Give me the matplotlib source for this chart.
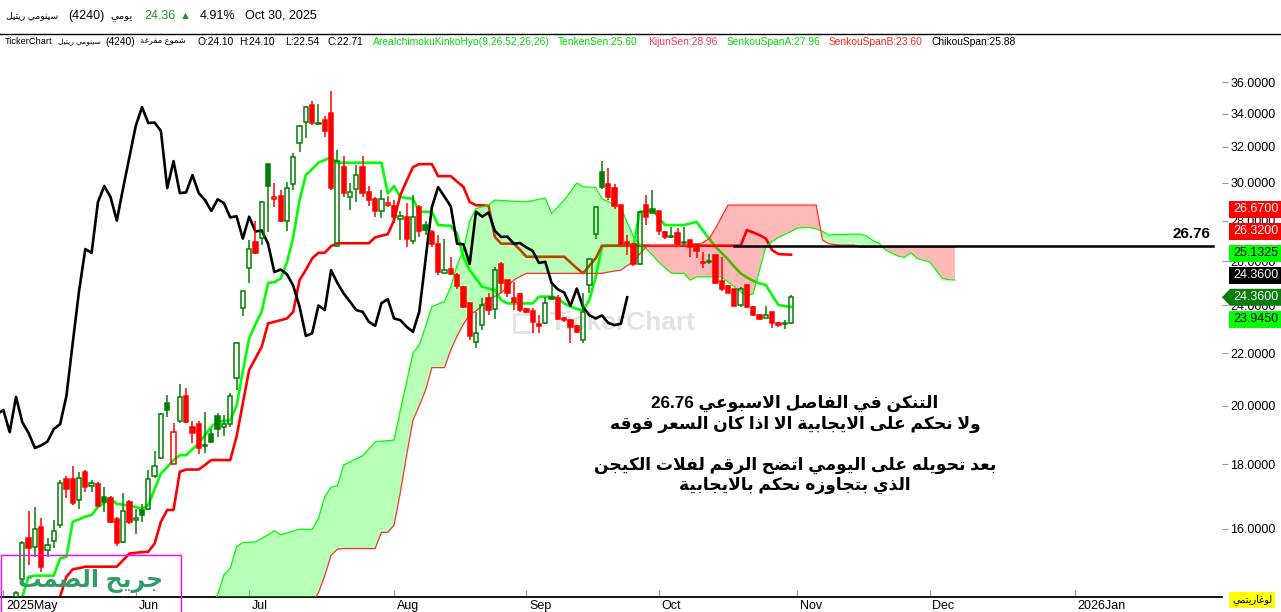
import numpy as np
import matplotlib
matplotlib.use("Agg")
import matplotlib.pyplot as plt
from matplotlib.patches import Rectangle, Polygon
from matplotlib.lines import Line2D
from matplotlib.ticker import NullLocator
from matplotlib.transforms import ScaledTranslation

plt.rcParams['font.family'] = ['Liberation Sans', 'DejaVu Sans']

W, H = 1281, 612

# ---- daily candles (trading-day index 0 .. 123, last = Oct 30, 2025) ----
opens = [14.15, 14.61, 15.74, 15.48, 16.05, 15.4, 15.65, 16.11, 17.52, 17.52,
         16.86, 17.75, 17.3, 17.35, 16.95, 16.92, 16.29, 15.63, 16.8, 16.25,
         16.56, 16.59, 17.62, 18.2, 20.1, 18.0, 19.45, 20.36, 19.26, 19.35,
         18.6, 19.0, 19.64, 19.25, 19.35, 21.04, 23.89, 25.69, 26.93, 27.12,
         31.02, 29.12, 29.3, 27.96, 29.9, 32.23, 33.48, 34.53, 33.35, 33.58,
         34.03, 26.76, 30.85, 29.22, 29.65, 30.85, 29.47, 29.1, 28.49, 28.82,
         28.74, 28.1, 28.2, 27.0, 28.7, 27.8, 27.43, 26.85, 25.48, 25.64,
         25.36, 24.8, 24.1, 22.47, 23.15, 24.32, 23.83, 25.9, 25.13, 24.32,
         24.5, 23.83, 23.76, 23.2, 23.23, 24.38, 24.35, 23.48, 23.37, 23.12,
         22.54, 24.91, 27.32, 30.56, 29.94, 29.68, 28.8, 26.92, 26.85, 25.9,
         28.8, 28.59, 28.47, 27.4, 27.25, 27.35, 26.95, 27.02, 26.82, 25.98,
         26.04, 26.3, 25.08, 24.86, 24.71, 24.0, 24.91, 23.93, 23.58, 23.48,
         23.7, 23.27, 23.25, 23.23]
highs = [14.3, 15.65, 16.52, 16.65, 16.32, 15.74, 16.26, 17.48, 17.6, 17.94,
         17.75, 17.8, 17.5, 17.42, 17.28, 17.0, 16.36, 17.07, 16.85, 16.6,
         16.75, 17.8, 18.42, 19.75, 20.4, 19.39, 20.81, 20.66, 19.45, 19.45,
         19.78, 19.18, 19.75, 19.68, 20.47, 22.45, 24.65, 27.04, 27.96, 29.0,
         31.05, 30.0, 29.57, 30.05, 31.65, 33.3, 34.45, 34.78, 34.6, 33.87,
         35.42, 31.8, 31.48, 29.98, 30.96, 31.48, 29.8, 29.22, 29.57, 29.27,
         29.06, 28.5, 28.9, 29.33, 28.8, 28.0, 27.5, 27.27, 27.1, 26.2,
         25.44, 24.85, 24.1, 23.73, 24.32, 24.53, 25.75, 25.95, 25.15, 25.05,
         24.53, 23.88, 23.88, 23.58, 24.38, 24.91, 24.46, 23.5, 23.4, 23.16,
         24.53, 26.12, 28.72, 31.19, 30.78, 29.9, 28.82, 27.27, 26.88, 28.5,
         29.33, 29.62, 28.5, 27.45, 27.68, 27.6, 27.68, 27.05, 26.85, 26.46,
         26.34, 26.32, 26.2, 24.91, 24.73, 24.8, 24.93, 23.96, 23.62, 23.99,
         23.72, 23.3, 23.37, 24.46]
lows = [14.1, 14.55, 14.98, 15.2, 14.8, 15.2, 15.45, 16.02, 16.92, 16.7,
        16.6, 17.1, 17.1, 16.65, 16.5, 16.17, 15.5, 15.6, 16.15, 15.85,
        16.2, 16.56, 17.55, 18.15, 19.6, 18.0, 19.4, 19.4, 18.7, 18.33,
        18.36, 18.7, 18.9, 18.95, 19.26, 20.58, 23.56, 25.0, 26.35, 26.8,
        27.42, 28.69, 27.95, 27.46, 29.6, 31.7, 32.53, 33.3, 33.3, 32.6,
        29.6, 26.7, 29.22, 28.55, 28.97, 29.22, 28.73, 28.2, 28.15, 28.7,
        27.9, 27.04, 26.7, 26.85, 27.2, 27.27, 26.7, 25.36, 25.45, 25.36,
        24.75, 23.88, 22.54, 22.2, 22.95, 23.58, 23.44, 24.53, 24.38, 23.8,
        23.73, 23.66, 22.82, 22.82, 23.2, 24.24, 23.37, 23.3, 22.41, 22.85,
        22.41, 24.57, 27.1, 29.66, 29.06, 28.6, 26.78, 26.3, 25.78, 25.85,
        27.77, 28.38, 27.27, 27.1, 27.15, 26.78, 26.78, 26.2, 26.16, 25.67,
        25.9, 24.95, 24.65, 24.53, 23.97, 23.95, 23.9, 23.55, 23.37, 23.46,
        23.06, 23.1, 22.98, 23.2]
closes = [14.25, 15.6, 15.45, 16.0, 14.93, 15.54, 15.94, 17.39, 17.2, 16.77,
          17.55, 17.26, 17.38, 16.68, 16.8, 16.2, 15.6, 16.52, 16.2, 16.32,
          16.4, 17.52, 17.93, 19.71, 19.85, 19.07, 20.33, 19.42, 19.04, 18.53,
          18.62, 18.75, 19.18, 19.35, 20.36, 22.42, 24.63, 26.59, 26.4, 28.95,
          29.81, 29.22, 28.0, 29.7, 31.42, 33.24, 34.4, 33.42, 33.45, 32.94,
          29.7, 31.19, 29.43, 29.47, 30.41, 29.43, 29.06, 28.49, 29.1, 28.9,
          28.16, 28.22, 27.1, 28.2, 27.45, 27.5, 26.85, 25.5, 25.62, 25.4,
          24.88, 23.95, 22.71, 22.82, 24.0, 23.8, 25.59, 25.0, 24.53, 24.17,
          23.8, 23.73, 23.3, 23.13, 24.1, 24.28, 23.44, 23.37, 23.09, 22.88,
          23.73, 26.09, 28.69, 29.75, 29.24, 28.73, 26.85, 26.82, 25.88, 28.45,
          28.2, 28.41, 27.48, 27.18, 27.19, 26.85, 26.88, 26.67, 26.5, 25.93,
          25.98, 25.0, 24.71, 24.57, 23.99, 24.75, 23.92, 23.58, 23.44, 23.57,
          23.25, 23.16, 23.22, 24.36]

# ---- ichimoku lines ----
tenkan = [13.9, 14.15, 14.67, 14.70, 14.70, 14.70, 14.70, 15.17, 15.21, 16.21,
          16.28, 16.36, 16.41, 16.65, 16.78, 16.91, 16.74, 16.72, 16.69, 16.65,
          16.59, 16.71, 17.2, 17.69, 17.9, 18.13, 18.29, 18.29, 18.49, 18.69,
          18.97, 19.26, 19.43, 19.46, 19.49, 20.0, 21.3, 22.6, 23.2, 23.73,
          25.0, 25.04, 25.2, 25.95, 27.18, 29.06, 30.41, 30.75, 31.10, 31.25,
          31.40, 31.10, 31.10, 31.10, 31.10, 31.10, 31.10, 31.10, 31.10, 29.41,
          29.81, 29.22, 29.17, 29.13, 28.45, 28.45, 28.45, 27.77, 27.75, 27.73,
          27.35, 26.22, 25.6, 25.2, 24.83, 24.75, 24.68, 24.24, 24.09, 24.09,
          24.09, 24.09, 24.09, 24.39, 24.39, 24.39, 24.32, 24.09, 23.95, 23.85,
          23.80, 24.24, 25.28, 26.72, 26.75, 26.75, 26.75, 26.75, 26.75, 28.45,
          28.5, 28.54, 28.15, 27.77, 27.77, 27.77, 27.77, 27.85, 27.94, 27.5,
          27.1, 26.70, 26.4, 26.1, 25.75, 25.44, 25.25, 25.1, 24.98, 24.91,
          24.45, 24.02, 23.97, 23.945]
kijun = [13.2, 13.2, 13.5, 13.5, 13.8, 13.8, 13.9, 14.15, 14.67, 14.87,
         14.9, 14.94, 14.94, 14.94, 14.94, 14.94, 14.94, 15.12, 15.30, 15.32,
         15.34, 15.35, 15.58, 16.21, 16.56, 16.56, 17.75, 17.82, 17.82, 17.82,
         17.97, 18.13, 18.13, 18.13, 18.13, 18.91, 20.1, 21.35, 21.8, 22.27,
         23.23, 23.30, 23.37, 23.44, 23.73, 25.13, 25.6, 26.14, 26.41, 26.41,
         26.73, 26.87, 26.87, 26.87, 26.87, 26.87, 26.87, 27.16, 27.24, 27.31,
         28.02, 29.33, 30.1, 30.85, 31.02, 31.02, 31.02, 30.35, 30.35, 30.35,
         30.05, 29.77, 28.96, 28.79, 28.78, 28.77, 27.18, 26.85, 26.85, 26.85,
         26.55, 26.22, 26.22, 26.22, 26.22, 26.22, 26.22, 26.22, 25.95, 25.68,
         25.45, 25.8, 26.14, 26.75, 26.75, 26.75, 26.75, 26.75, 26.75, 26.75,
         26.75, 26.75, 26.75, 26.75, 26.75, 26.75, 26.75, 26.75, 26.75, 26.75,
         26.75, 26.75, 26.75, 26.75, 26.75, 26.75, 27.52, 27.4, 27.27, 27.10,
         26.54, 26.35, 26.33, 26.32]
span_start = 31  # senkou spans run from index 31 to 149 (26 days ahead)
senkou_a = [13.9, 14.2, 14.72, 14.90, 15.49, 15.61, 15.62, 15.63, 15.73,
            15.83, 15.95, 15.83, 15.88, 15.94, 15.99, 15.99, 15.99, 16.31, 16.96,
            17.26, 17.30, 17.97, 18.07, 18.17, 18.27, 18.5, 18.74, 18.76, 18.78,
            18.80, 19.85, 20.9, 22.02, 22.34, 23.1, 23.95, 24.06, 24.17, 24.83,
            25.83, 26.54, 27.96, 28.62, 28.7, 28.80, 29.06, 29.04, 29.02, 29.0,
            28.98, 28.97, 29.03, 29.1, 29.16, 28.37, 28.7, 29.06, 29.5, 29.97,
            29.77, 29.75, 29.74, 29.13, 28.98, 28.83, 28.69, 27.9, 27.2, 26.8,
            26.6, 26.3, 25.97, 25.7, 25.45, 25.44, 25.44, 25.13, 25.28, 25.28,
            25.28, 25.28, 25.28, 25.05, 24.83, 24.6, 24.39, 24.53, 25.59, 26.70,
            26.95, 27.16, 27.3, 27.45, 27.62, 27.64, 27.65, 27.57, 27.45, 27.27,
            27.3, 27.3, 27.31, 27.32, 27.32, 27.22, 27.0, 26.87, 26.54, 26.4,
            26.25, 26.19, 26.41, 26.14, 26.05, 25.98, 25.6, 25.21, 25.15, 25.1325]
senkou_b = [13.6, 13.6, 13.6, 13.6, 13.6, 13.6, 13.6, 13.6, 13.6,
            13.6, 13.6, 13.6, 13.6, 13.6, 13.6, 13.6, 14.0, 14.25, 14.7,
            15.25, 15.42, 15.44, 15.44, 15.44, 15.44, 15.44, 15.44, 15.90, 15.90,
            16.11, 17.1, 18.3, 19.49, 20.0, 20.58, 21.44, 21.44, 21.44, 22.14,
            22.7, 23.2, 23.60, 23.76, 24.0, 24.24, 24.4, 24.55, 24.85, 25.13,
            25.3, 25.44, 25.44, 25.44, 25.44, 25.44, 25.44, 25.44, 25.44, 25.44,
            25.44, 25.44, 25.44, 25.44, 25.5, 25.55, 25.59, 25.8, 25.98, 26.35,
            26.70, 26.75, 26.75, 26.75, 26.75, 26.75, 26.75, 26.75, 26.75, 26.9,
            27.10, 27.6, 28.2, 28.80, 28.80, 28.80, 28.80, 28.80, 28.80, 28.80,
            28.80, 28.80, 28.80, 28.80, 28.80, 28.80, 28.80, 28.80, 27.02, 26.85,
            26.8, 26.78, 26.78, 26.78, 26.67, 26.67, 26.67, 26.67, 26.67, 26.67,
            26.67, 26.67, 26.67, 26.67, 26.67, 26.67, 26.67, 26.67, 26.67, 26.67]
chikou_shift = 26
hover = 72          # candle shown in the legend row
level = 26.76       # drawn horizontal line
level_start, level_end = 114, 190

month_pos = [-2, 19, 37, 60, 81, 102, 124, 145, 168]
month_lbl = ['2025May', 'Jun', 'Jul', 'Aug', 'Sep', 'Oct', 'Nov', 'Dec', '2026Jan']
y_ticks = [16, 18, 20, 22, 24, 26, 28, 30, 32, 34, 36]

notes = ["التنكن في الفاصل الاسبوعي 26.76",
         "ولا نحكم على الايجابية الا اذا كان السعر فوقه",
         "بعد تحويله على اليومي اتضح الرقم لفلات الكيجن",
         "الذي بتجاوزه نحكم بالايجابية"]
notes_y = [403, 424, 465, 485]

# ---- minimal arabic shaping (presentation forms, visual order) ----
AR = {'ا': (0xFE8D, 2), 'ب': (0xFE8F, 4), 'ة': (0xFE93, 2), 'ت': (0xFE95, 4),
      'ج': (0xFE9D, 4), 'ح': (0xFEA1, 4), 'د': (0xFEA9, 2), 'ذ': (0xFEAB, 2),
      'ر': (0xFEAD, 2), 'ز': (0xFEAF, 2), 'س': (0xFEB1, 4), 'ش': (0xFEB5, 4),
      'ص': (0xFEB9, 4), 'ض': (0xFEBD, 4), 'ع': (0xFEC9, 4), 'غ': (0xFECD, 4),
      'ف': (0xFED1, 4), 'ق': (0xFED5, 4), 'ك': (0xFED9, 4), 'ل': (0xFEDD, 4),
      'م': (0xFEE1, 4), 'ن': (0xFEE5, 4), 'ه': (0xFEE9, 4), 'و': (0xFEED, 2),
      'ى': (0xFEEF, 2), 'ي': (0xFEF1, 4)}


def shape_word(w):
    out = []
    i = 0
    while i < len(w):
        ch = w[i]
        if ch not in AR:
            out.append(ch)
            i += 1
            continue
        prev = i > 0 and w[i - 1] in AR and AR[w[i - 1]][1] == 4
        if ch == 'ل' and i + 1 < len(w) and w[i + 1] == 'ا':
            out.append(chr(0xFEFC if prev else 0xFEFB))
            i += 2
            continue
        base, n = AR[ch]
        nxt = n == 4 and i + 1 < len(w) and w[i + 1] in AR
        k = 3 if (prev and nxt) else 1 if prev else 2 if nxt else 0
        out.append(chr(base + k))
        i += 1
    return ''.join(out[::-1])


def ar(s):
    parts = s.split(' ')[::-1]
    return ' '.join(shape_word(p) if any(c in AR for c in p) else p for p in parts)


def fx(x):
    return x / W


def fy(y):
    return 1 - y / H


fig = plt.figure(figsize=(W / 100, H / 100), dpi=100)
fig.patch.set_facecolor('white')
ax = fig.add_axes([0, (H - 597) / H, 1222 / W, (597 - 36) / H])
ax.set_yscale('log')
ax.set_ylim(14.14, 39.14)
ax.set_xlim(-2.54, 191.4)

o, h, l, c = map(np.array, (opens, highs, lows, closes))
idx = np.arange(len(c))

# tenkan / kijun sit under the cloud fill
ax.plot(idx, tenkan, color='#00ff00', lw=1.9, zorder=2)
ax.plot(idx, kijun, color='#ff0000', lw=1.9, zorder=2)

sx = np.arange(span_start, span_start + len(senkou_a))
sa, sb = np.array(senkou_a), np.array(senkou_b)
ax.fill_between(sx, sa, sb, where=sa >= sb, interpolate=True,
                color='#00ff00', alpha=0.28, lw=0, zorder=3)
ax.fill_between(sx, sa, sb, where=sa < sb, interpolate=True,
                color='#ff0000', alpha=0.28, lw=0, zorder=3)
ax.plot(sx, sa, color='#00ff00', lw=0.9, zorder=3.5)
ax.plot(sx, sb, color='#ff3030', lw=0.9, zorder=3.5)

# chikou = close drawn 26 days back
ax.plot(idx - chikou_shift, c, color='black', lw=1.9, zorder=4)

# candles
prev_c = np.r_[c[0], c[:-1]]
col = np.where(c >= prev_c, '#008000', '#ff0000')
top = np.maximum(o, c)
bot = np.minimum(o, c)
faces = ['none' if cc >= oo else cl for cc, oo, cl in zip(c, o, col)]
ax.vlines(idx, top, h, colors=col, lw=1.1, zorder=5)
ax.vlines(idx, l, bot, colors=col, lw=1.1, zorder=5)
ax.bar(idx, top - bot, bottom=bot, width=0.68, color=faces, edgecolor=col,
       lw=1.1, zorder=5)

# horizontal level line
ax.plot([level_start, level_end], [level, level], color='black', lw=1.8, zorder=6)
ax.annotate(f'{level:.2f}', (level_end - 0.5, level), xytext=(0, 3),
            textcoords='offset points', ha='right', va='bottom',
            fontsize=11, fontweight='bold', zorder=6)

# watermark
ax.text(fx(623), fy(323), 'TickerChart', transform=fig.transFigure,
        ha='center', va='center', fontsize=19, fontweight='bold',
        color='#e3e3e3', zorder=0.5)
ax.add_patch(Rectangle((fx(514), fy(332)), 19 / W, 18 / H, transform=fig.transFigure,
                       facecolor='none', edgecolor='#e3e3e3', lw=2, zorder=0.5))

# axes styling
for side in ('top', 'left', 'right'):
    ax.spines[side].set_visible(False)
ax.spines['bottom'].set_linewidth(1.3)
ax.yaxis.tick_right()
ax.set_yticks(y_ticks, [f'{v:.4f}' for v in y_ticks])
ax.yaxis.set_minor_locator(NullLocator())
ax.tick_params(axis='y', direction='out', length=4.5, width=0.8, color='#9a9a9a',
               labelsize=9, pad=1.5)
ax.set_xticks(month_pos, month_lbl)
ax.xaxis.set_minor_locator(NullLocator())
ax.tick_params(axis='x', direction='in', length=5, width=0.8, color='#9a9a9a',
               labelsize=9, pad=2)
shift = ScaledTranslation(2 / 72, 0, fig.dpi_scale_trans)
for lab in ax.get_xticklabels():
    lab.set_horizontalalignment('left')
    lab.set_transform(lab.get_transform() + shift)

# annotation text
for s, yy in zip(notes, notes_y):
    fig.text(fx(795), fy(yy), ar(s), ha='center', va='center', fontsize=12.3,
             fontweight='bold', color='black')

# header row
fig.text(fx(58), fy(16), ar('سينومي ريتيل'), fontsize=6.6, va='center', ha='right')
fig.text(fx(68), fy(16), '(4240)', fontsize=9, va='center')
fig.text(fx(110), fy(16), ar('يومي'), fontsize=7.5, va='center')
fig.text(fx(144), fy(16), f'{closes[-1]:.2f}', fontsize=9, va='center', color='#1e9a1e')
fig.text(fx(180), fy(16), '▲', fontsize=8, va='center', color='#1e9a1e')
pct = (closes[-1] / closes[-2] - 1) * 100
fig.text(fx(200), fy(16), f'{pct:.2f}%', fontsize=9, va='center')
fig.text(fx(245), fy(16), 'Oct 30, 2025', fontsize=9, va='center')
fig.add_artist(Line2D([0, 1], [fy(33.5), fy(33.5)], color='black', lw=1,
                      transform=fig.transFigure))

# legend row (values of the hovered candle)
ly = fy(42)
lfs = 7.4
lime = '#00dd00'
fig.text(fx(5), ly, 'TickerChart', fontsize=6.7, va='center')
fig.text(fx(58), ly, ar('سينومي ريتيل'), fontsize=5.4, va='center')
fig.text(fx(186), ly, ar('شموع مفرغة'), fontsize=6.0, va='center', ha='right')
legend_items = [
    (105, '(4240)', 'black'),
    (197, f'O:{opens[hover]:.2f}', 'black'),
    (239, f'H:{highs[hover]:.2f}', 'black'),
    (285, f'L:{lows[hover]:.2f}', 'black'),
    (327, f'C:{closes[hover]:.2f}', 'black'),
    (373, 'AreaIchimokuKinkoHyo(9,26,52,26,26)', lime),
    (558, f'TenkenSen:{tenkan[hover]:.2f}', lime),
    (648, f'KijunSen:{kijun[hover]:.2f}', '#ff3355'),
    (727, f'SenkouSpanA:{senkou_a[hover - span_start]:.2f}', lime),
    (829, f'SenkouSpanB:{senkou_b[hover - span_start]:.2f}', '#ff2020'),
    (931, f'ChikouSpan:{closes[hover + chikou_shift]:.2f}', 'black'),
]
for x, s, cl in legend_items:
    fig.text(fx(x), ly, s, fontsize=lfs, va='center', color=cl)

# price boxes on the right scale, pushed apart around the last price
boxes = [(senkou_b[-1], '#ff0000', 'white', False),
         (kijun[-1], '#ff0000', 'white', False),
         (senkou_a[-1], '#00ff00', 'black', False),
         (closes[-1], 'black', 'white', False),
         (closes[-1], '#0a7d0a', 'white', True),
         (tenkan[-1], '#00ff00', 'black', False)]
anchor = 4
true_y = [ax.transData.transform((0, b[0]))[1] for b in boxes]
pos = list(true_y)
gap = 22
for k in range(anchor - 1, -1, -1):
    pos[k] = max(true_y[k], pos[k + 1] + gap)
for k in range(anchor + 1, len(boxes)):
    pos[k] = min(true_y[k], pos[k - 1] - gap)
bh = 17
for (v, fc, tc, arrow), yc in zip(boxes, pos):
    if arrow:
        pts = [(1222, yc), (1230, yc + bh / 2), (1281, yc + bh / 2),
               (1281, yc - bh / 2), (1230, yc - bh / 2)]
        fig.add_artist(Polygon([(px / W, py / H) for px, py in pts], closed=True,
                               facecolor=fc, edgecolor='none',
                               transform=fig.transFigure))
    else:
        fig.add_artist(Rectangle((1229 / W, (yc - bh / 2) / H), 52 / W, bh / H,
                                 facecolor=fc, edgecolor='none',
                                 transform=fig.transFigure))
    fig.text(1256 / W, yc / H, f'{v:.4f}', ha='center', va='center',
             fontsize=9, color=tc)

# log-scale tag
fig.text(fx(1252), fy(600), ar('لوغاريتمي'), ha='center', va='center', fontsize=7,
         bbox=dict(facecolor='#ffff00', edgecolor='none', pad=2))

# signature box bottom-left
fig.add_artist(Rectangle((fx(0.5), -0.01), 180 / W, 57 / H + 0.01, facecolor='none',
                         edgecolor='#ff00ff', lw=1, transform=fig.transFigure))
fig.text(fx(90), fy(581), ar('جريح الصمت'), ha='center', va='center', fontsize=17,
         fontweight='bold', color='#339a6a')

fig.savefig('out.png', dpi=100)
